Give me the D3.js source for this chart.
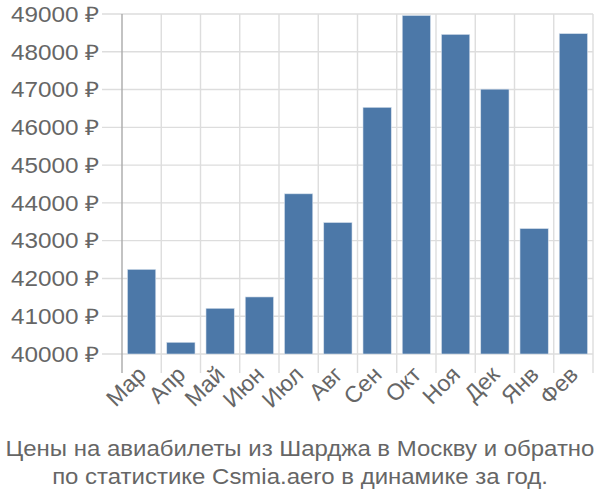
<!DOCTYPE html>
<html><head><meta charset="utf-8">
<script src="https://cdn.jsdelivr.net/npm/d3@7"></script>
<style>body{margin:0;background:#fff}svg{display:block}text{font-family:"Liberation Sans",Arial,sans-serif}</style>
</head><body>
<svg id="c" width="600" height="500"></svg>
<script>
const categories = ["Мар","Апр","Май","Июн","Июл","Авг","Сен","Окт","Ноя","Дек","Янв","Фев"];
const prices = [42240,40310,41210,41510,44240,43480,46530,48960,48460,47010,43320,48480];
const yTicks = [40000,41000,42000,43000,44000,45000,46000,47000,48000,49000];
const titleLines = ["Цены на авиабилеты из Шарджа в Москву и обратно","по статистике Csmia.aero в динамике за год."];

const svg = d3.select("#c");
const L = 122, R = 593, T = 14, B = 354;
const x = d3.scaleBand().domain(categories).range([L, R]).paddingInner(0.28).paddingOuter(0.14);
const y = d3.scaleLinear().domain([40000, 49000]).range([B, T]);
const grid = "#dddddd", txt = "#666666";

// horizontal gridlines
svg.append("g").selectAll("line").data(yTicks).join("line")
  .attr("x1", 102).attr("x2", R).attr("y1", d => y(d)).attr("y2", d => y(d))
  .attr("stroke", grid).attr("stroke-width", 1.4);
// vertical band boundaries
const bounds = d3.range(categories.length + 1).map(i => L + i * (R - L) / categories.length);
svg.append("g").selectAll("line").data(bounds.slice(1)).join("line")
  .attr("x1", d => d).attr("x2", d => d).attr("y1", T).attr("y2", B + 19)
  .attr("stroke", grid).attr("stroke-width", 1.4);
// y axis line
svg.append("line").attr("x1", L).attr("x2", L).attr("y1", T).attr("y2", B + 19)
  .attr("stroke", "#aaaaaa").attr("stroke-width", 1.4);

// bars
svg.append("g").selectAll("rect").data(categories).join("rect")
  .attr("x", d => x(d)).attr("width", x.bandwidth())
  .attr("y", (d, i) => y(prices[i])).attr("height", (d, i) => B - y(prices[i]))
  .attr("fill", "#4c78a8").attr("stroke", "#d6e0ec").attr("stroke-width", 0.6);

// y labels
svg.append("g").selectAll("g").data(yTicks).join("g")
  .attr("transform", d => `translate(99,${y(d)}) scale(1.13,1)`)
  .append("text").attr("dy", "0.36em")
  .attr("text-anchor", "end").attr("fill", txt).style("font-size", "21.5px")
  .text(d => d + " ₽");

// x labels
svg.append("g").selectAll("text").data(categories).join("text")
  .attr("transform", d => `translate(${x(d) + x.bandwidth() / 2 + 6},${B + 22}) rotate(-45)`)
  .attr("text-anchor", "end").attr("fill", txt).style("font-size", "23px")
  .text(d => d);

// title
svg.append("g").selectAll("g").data(titleLines).join("g")
  .attr("transform", (d, i) => `translate(300,${456 + i * 28}) scale(1.09,1)`)
  .append("text").attr("text-anchor", "middle").attr("fill", txt).style("font-size", "22px")
  .text(d => d);
</script>
</body></html>
